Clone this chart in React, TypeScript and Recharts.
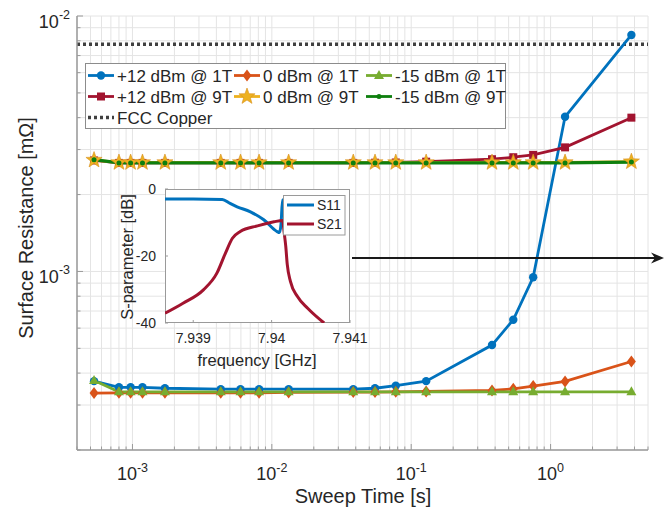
import React from 'react'
import { CartesianGrid, Line, LineChart, ReferenceLine, XAxis, YAxis } from 'recharts'

// sweep time [s], shared by all six measurement series
const sweepTime = [5.3e-4, 8.0e-4, 9.7e-4, 1.18e-3, 1.71e-3, 4.3e-3, 5.96e-3, 8.1e-3, 1.32e-2, 3.84e-2, 5.5e-2, 7.75e-2, 0.128, 0.38, 0.54, 0.75, 1.27, 3.8]

// surface resistance [mOhm]
const plus12dBm1T = [3.72e-4, 3.52e-4, 3.52e-4, 3.52e-4, 3.49e-4, 3.46e-4, 3.46e-4, 3.46e-4, 3.46e-4, 3.46e-4, 3.49e-4, 3.57e-4, 3.72e-4, 5.15e-4, 6.47e-4, 9.49e-4, 4.03e-3, 8.43e-3]
const zerodBm1T = [3.34e-4, 3.35e-4, 3.35e-4, 3.35e-4, 3.35e-4, 3.35e-4, 3.35e-4, 3.35e-4, 3.36e-4, 3.37e-4, 3.37e-4, 3.38e-4, 3.39e-4, 3.42e-4, 3.47e-4, 3.56e-4, 3.71e-4, 4.44e-4]
const minus15dBm1T = [3.74e-4, 3.38e-4, 3.38e-4, 3.38e-4, 3.38e-4, 3.38e-4, 3.38e-4, 3.38e-4, 3.38e-4, 3.38e-4, 3.38e-4, 3.38e-4, 3.38e-4, 3.38e-4, 3.38e-4, 3.38e-4, 3.38e-4, 3.38e-4]
const plus12dBm9T = [2.72e-3, 2.66e-3, 2.66e-3, 2.66e-3, 2.66e-3, 2.66e-3, 2.66e-3, 2.66e-3, 2.66e-3, 2.66e-3, 2.665e-3, 2.67e-3, 2.69e-3, 2.75e-3, 2.80e-3, 2.86e-3, 3.06e-3, 4.0e-3]
const zerodBm9T = [2.73e-3, 2.67e-3, 2.67e-3, 2.67e-3, 2.67e-3, 2.67e-3, 2.67e-3, 2.67e-3, 2.67e-3, 2.67e-3, 2.67e-3, 2.67e-3, 2.67e-3, 2.67e-3, 2.67e-3, 2.67e-3, 2.67e-3, 2.69e-3]
const minus15dBm9T = [2.74e-3, 2.66e-3, 2.66e-3, 2.66e-3, 2.66e-3, 2.66e-3, 2.66e-3, 2.66e-3, 2.66e-3, 2.66e-3, 2.66e-3, 2.66e-3, 2.66e-3, 2.66e-3, 2.66e-3, 2.66e-3, 2.66e-3, 2.68e-3]
const fccCopper = 7.75e-3

// inset: S-parameters vs frequency [GHz]
const s11Freq = [7.93864, 7.939, 7.93937, 7.93947, 7.93956, 7.93973, 7.9399, 7.94007, 7.9401, 7.94012, 7.94014, 7.9403, 7.94045]
const s11Db = [-3.0, -3.0, -3.1, -4.3, -5.3, -6.8, -9.2, -12.7, -13.0, -10.5, -3.3, -2.9, -2.9]
const s21Freq = [7.93864, 7.93887, 7.93913, 7.9393, 7.93941, 7.9395, 7.9396, 7.93982, 7.94003, 7.94014, 7.94016, 7.94018, 7.9402, 7.94024, 7.94033, 7.94046, 7.94067]
const s21Db = [-37.1, -34.1, -30.1, -25.2, -19.2, -14.7, -12.7, -11.0, -9.8, -9.4, -13, -17, -22.6, -27.6, -32.1, -35.6, -40]

const insetFreqTicks = [7.939, 7.94, 7.941]
const insetDbTicks = [-40, -20, 0]

const steps = [1, 2, 3, 4, 5, 6, 7, 8, 9]
const xTicks = [1e-4, 1e-3, 1e-2, 1e-1, 1]
  .flatMap((d) => steps.map((m) => m * d))
  .filter((v) => v >= 4e-4 * 0.999 && v <= 5 * 1.001)
const yTicks = [1e-4, 1e-3, 1e-2]
  .flatMap((d) => steps.map((m) => m * d))
  .filter((v) => v >= 2e-4 * 0.999 && v <= 1e-2 * 1.001)

const BLUE = '#0072BD'
const ORANGE = '#D95319'
const LGREEN = '#77AC30'
const RED = '#A2142F'
const YELLOW = '#EDB120'
const DGREEN = '#0E7F0E'
const AXIS = '#9a9a9a'
const TEXT = '#262626'
const FONT = '"Liberation Sans", Arial, Helvetica, sans-serif'

const rows = sweepTime.map((t, i) => ({
  t,
  p12_1T: plus12dBm1T[i],
  z_1T: zerodBm1T[i],
  m15_1T: minus15dBm1T[i],
  p12_9T: plus12dBm9T[i],
  z_9T: zerodBm9T[i],
  m15_9T: minus15dBm9T[i],
}))
const s11 = s11Freq.map((f, i) => ({ f, db: s11Db[i] }))
const s21 = s21Freq.map((f, i) => ({ f, db: s21Db[i] }))

type Shape = 'circle' | 'diamond' | 'triangle' | 'square' | 'star' | 'dot'

function starPoints(cx: number, cy: number, ro: number, ri: number) {
  const pts: string[] = []
  for (let k = 0; k < 10; k++) {
    const r = k % 2 === 0 ? ro : ri
    const a = -Math.PI / 2 + (k * Math.PI) / 5
    pts.push(`${cx + r * Math.cos(a)},${cy + r * Math.sin(a)}`)
  }
  return pts.join(' ')
}

function Marker({ shape, cx, cy, color }: { shape: Shape; cx: number; cy: number; color: string }) {
  switch (shape) {
    case 'circle':
      return <circle cx={cx} cy={cy} r={4.2} fill={color} />
    case 'diamond':
      return <polygon points={`${cx},${cy - 6} ${cx + 4.5},${cy} ${cx},${cy + 6} ${cx - 4.5},${cy}`} fill={color} />
    case 'triangle':
      return <polygon points={`${cx},${cy - 5.5} ${cx + 5},${cy + 3.5} ${cx - 5},${cy + 3.5}`} fill={color} />
    case 'square':
      return <rect x={cx - 4} y={cy - 4} width={8} height={8} fill={color} />
    case 'star':
      return <polygon points={starPoints(cx, cy, 8.5, 3.5)} fill={color} stroke="#D9901E" strokeWidth={0.6} />
    default:
      return <circle cx={cx} cy={cy} r={2.5} fill={color} />
  }
}

const dotOf = (shape: Shape, color: string) => (props: any) => {
  const { cx, cy, index } = props
  if (cx == null || cy == null) return <g key={`${shape}-${index}`} />
  return <Marker key={`${shape}-${index}`} shape={shape} cx={cx} cy={cy} color={color} />
}

const exp10 = (v: number) => Math.round(Math.log10(v))
const isDecade = (v: number) => Math.abs(Math.log10(v) - exp10(v)) < 1e-6

function BottomTick(props: any) {
  const { x, y, payload } = props
  const major = isDecade(payload.value)
  return (
    <g>
      <line x1={x} y1={y} x2={x} y2={y - (major ? 6 : 3.5)} stroke={AXIS} />
      {major && (
        <text x={x} y={y + 29.5} textAnchor="middle" fill={TEXT} fontSize={18} fontFamily={FONT}>
          <tspan>10</tspan>
          <tspan dy={-8} fontSize={12.5}>{exp10(payload.value)}</tspan>
        </text>
      )}
    </g>
  )
}

function TopTick(props: any) {
  const { x, y, payload } = props
  const major = isDecade(payload.value)
  return <line x1={x} y1={y} x2={x} y2={y + (major ? 6 : 3.5)} stroke={AXIS} />
}

function LeftTick(props: any) {
  const { x, y, payload } = props
  const major = isDecade(payload.value)
  return (
    <g>
      <line x1={x} y1={y} x2={x + (major ? 6 : 3.5)} y2={y} stroke={AXIS} />
      {major && (
        <text x={x - 7} y={y + 11.5} textAnchor="end" fill={TEXT} fontSize={18} fontFamily={FONT}>
          <tspan>10</tspan>
          <tspan dy={-9} fontSize={12.5}>{exp10(payload.value)}</tspan>
        </text>
      )}
    </g>
  )
}

function RightTick(props: any) {
  const { x, y, payload } = props
  const major = isDecade(payload.value)
  return <line x1={x} y1={y} x2={x - (major ? 6 : 3.5)} y2={y} stroke={AXIS} />
}

function InsetBottomTick(props: any) {
  const { x, y, payload } = props
  return (
    <g>
      <line x1={x} y1={y} x2={x} y2={y - 3} stroke={AXIS} />
      <text x={x} y={y + 20} textAnchor="middle" fill={TEXT} fontSize={14} fontFamily={FONT}>
        {Number(payload.value.toFixed(3)).toString()}
      </text>
    </g>
  )
}

function InsetLeftTick(props: any) {
  const { x, y, payload } = props
  return (
    <g>
      <line x1={x} y1={y} x2={x + 3} y2={y} stroke={AXIS} />
      <text x={x - 9} y={y + 5} textAnchor="end" fill={TEXT} fontSize={14} fontFamily={FONT}>
        {payload.value}
      </text>
    </g>
  )
}

const legendItems: { label: string; color: string; shape: Shape | null; col: number; row: number }[] = [
  { label: '+12 dBm @ 1T', color: BLUE, shape: 'circle', col: 0, row: 0 },
  { label: '0 dBm @ 1T', color: ORANGE, shape: 'diamond', col: 1, row: 0 },
  { label: '-15 dBm @ 1T', color: LGREEN, shape: 'triangle', col: 2, row: 0 },
  { label: '+12 dBm @ 9T', color: RED, shape: 'square', col: 0, row: 1 },
  { label: '0 dBm @ 9T', color: YELLOW, shape: 'star', col: 1, row: 1 },
  { label: '-15 dBm @ 9T', color: DGREEN, shape: 'dot', col: 2, row: 1 },
  { label: 'FCC Copper', color: '#404040', shape: null, col: 0, row: 2 },
]
const legendCols = [88, 234, 366]
const legendRows = [75.5, 96.5, 117.5]

export default function App() {
  const lineProps = { isAnimationActive: false, activeDot: false as const, strokeWidth: 2.8, type: 'linear' as const }
  return (
    <div style={{ position: 'absolute', left: 0, top: 0, width: 671, height: 515, background: '#fff', fontFamily: FONT }}>
      <div style={{ position: 'absolute', left: 0, top: 0 }}>
        <LineChart width={671} height={515} data={rows} margin={{ top: 16, right: 23, bottom: 0, left: 0 }}>
          <CartesianGrid stroke="#e4e4e4" />
          <XAxis
            dataKey="t" type="number" scale="log" domain={[4e-4, 5]} allowDataOverflow ticks={xTicks}
            interval={0} tickSize={0} tickMargin={0} height={65} tick={BottomTick}
            axisLine={{ stroke: AXIS, strokeWidth: 1.5 }}
          />
          <XAxis
            xAxisId="top" orientation="top" dataKey="t" type="number" scale="log" domain={[4e-4, 5]} allowDataOverflow
            ticks={xTicks} interval={0} tickSize={0} tickMargin={0} height={0} tick={TopTick}
            axisLine={{ stroke: AXIS, strokeWidth: 1.5 }}
          />
          <YAxis
            type="number" scale="log" domain={[2e-4, 1e-2]} allowDataOverflow ticks={yTicks}
            interval={0} tickSize={0} tickMargin={0} width={77} tick={LeftTick}
            axisLine={{ stroke: AXIS, strokeWidth: 1.5 }}
          />
          <YAxis
            yAxisId="right" orientation="right" type="number" scale="log" domain={[2e-4, 1e-2]} allowDataOverflow
            ticks={yTicks} interval={0} tickSize={0} tickMargin={0} width={0} tick={RightTick}
            axisLine={{ stroke: AXIS, strokeWidth: 1.5 }}
          />
          <ReferenceLine y={fccCopper} stroke="#404040" strokeWidth={3.5} strokeDasharray="3 3" />
          <Line dataKey="p12_1T" stroke={BLUE} dot={dotOf('circle', BLUE)} {...lineProps} />
          <Line dataKey="z_1T" stroke={ORANGE} dot={dotOf('diamond', ORANGE)} {...lineProps} />
          <Line dataKey="m15_1T" stroke={LGREEN} dot={dotOf('triangle', LGREEN)} {...lineProps} />
          <Line dataKey="p12_9T" stroke={RED} dot={dotOf('square', RED)} {...lineProps} />
          <Line dataKey="z_9T" stroke={YELLOW} dot={dotOf('star', YELLOW)} {...lineProps} />
          <Line dataKey="m15_9T" stroke={DGREEN} dot={dotOf('dot', DGREEN)} {...lineProps} strokeWidth={3.2} />
        </LineChart>
      </div>

      <div style={{ position: 'absolute', left: 165, top: 189, width: 185, height: 134, background: '#fff', border: `1px solid ${AXIS}`, boxSizing: 'border-box' }} />

      <div style={{ position: 'absolute', left: 100, top: 180 }}>
        <LineChart width={270} height={190} margin={{ top: 9, right: 20, bottom: 0, left: 0 }}>
          <XAxis
            dataKey="f" type="number" domain={[7.93864, 7.941]} allowDataOverflow ticks={insetFreqTicks}
            interval={0} tickSize={0} tickMargin={0} height={47} tick={InsetBottomTick} axisLine={false}
          />
          <YAxis
            type="number" domain={[-40, 0]} allowDataOverflow ticks={insetDbTicks}
            interval={0} tickSize={0} tickMargin={0} width={65} tick={InsetLeftTick} axisLine={false}
          />
          <Line data={s11} dataKey="db" stroke={BLUE} strokeWidth={3} dot={false} activeDot={false} type="monotone" isAnimationActive={false} />
          <Line data={s21} dataKey="db" stroke={RED} strokeWidth={3} dot={false} activeDot={false} type="monotone" isAnimationActive={false} />
        </LineChart>
      </div>

      <svg width={671} height={515} style={{ position: 'absolute', left: 0, top: 0, pointerEvents: 'none' }} fontFamily={FONT}>
        <text x={363} y={503} textAnchor="middle" fontSize={20} fill={TEXT}>Sweep Time [s]</text>
        <text transform="translate(33,228) rotate(-90)" textAnchor="middle" fontSize={20} fill={TEXT}>Surface Resistance [mΩ]</text>
        <text x={257} y={366} textAnchor="middle" fontSize={16.5} fill={TEXT}>frequency [GHz]</text>
        <text transform="translate(133,257) rotate(-90)" textAnchor="middle" fontSize={16.5} fill={TEXT}>S-parameter [dB]</text>

        <rect x={283.5} y={195.5} width={61.5} height={39.5} fill="#fff" stroke={AXIS} />
        <line x1={287} y1={205} x2={314} y2={205} stroke={BLUE} strokeWidth={3} />
        <text x={317} y={210} fontSize={14} fill={TEXT}>S11</text>
        <line x1={287} y1={224} x2={314} y2={224} stroke={RED} strokeWidth={3} />
        <text x={317} y={229} fontSize={14} fill={TEXT}>S21</text>

        <line x1={352} y1={258} x2={656} y2={258} stroke="#1a1a1a" strokeWidth={2} />
        <polygon points="664,258 651,252.5 655,258 651,263.5" fill="#1a1a1a" />

        <rect x={85.5} y={63.5} width={420} height={65} fill="#fff" stroke="#8c8c8c" />
        {legendItems.map((it) => {
          const x = legendCols[it.col]
          const y = legendRows[it.row]
          return (
            <g key={it.label}>
              {it.shape ? (
                <>
                  <line x1={x} y1={y} x2={x + 26} y2={y} stroke={it.color} strokeWidth={2.8} />
                  <Marker shape={it.shape} cx={x + 13} cy={y} color={it.color} />
                </>
              ) : (
                <line x1={x} y1={y} x2={x + 26} y2={y} stroke={it.color} strokeWidth={3.5} strokeDasharray="3 3" />
              )}
              <text x={x + 29} y={y + 6} fontSize={17} fill={TEXT}>{it.label}</text>
            </g>
          )
        })}
      </svg>
    </div>
  )
}
